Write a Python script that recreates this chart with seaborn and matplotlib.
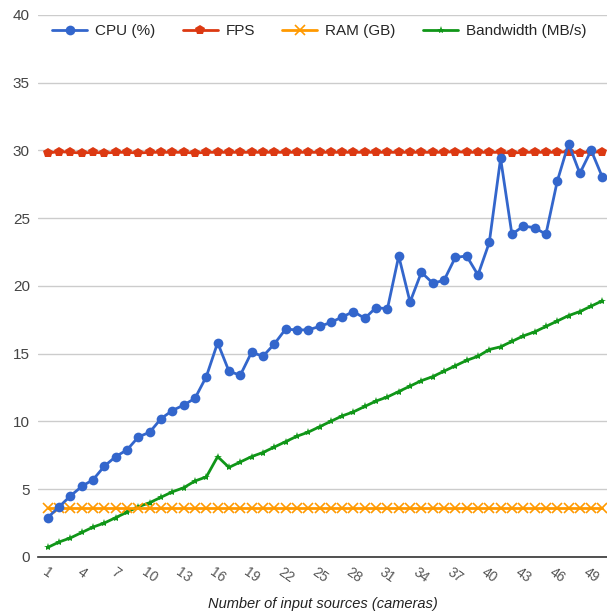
import numpy as np
import pandas as pd
import seaborn as sns
import matplotlib.pyplot as plt

cameras = list(range(1, 51))

cpu = [2.9, 3.7, 4.5, 5.2, 5.7, 6.7, 7.4, 7.9, 8.85, 9.2,
       10.2, 10.8, 11.2, 11.7, 13.3, 15.8, 13.7, 13.4, 15.1, 14.8,
       15.7, 16.8, 16.75, 16.75, 17.0, 17.3, 17.7, 18.1, 17.6, 18.4,
       18.3, 22.2, 18.8, 21.0, 20.2, 20.4, 22.1, 22.2, 20.8, 23.2,
       29.4, 23.8, 24.4, 24.3, 23.8, 27.7, 30.5, 28.3, 30.0, 28.0]

fps = [29.8, 29.9, 29.85, 29.8, 29.85, 29.8, 29.85, 29.85, 29.8, 29.85,
       29.85, 29.85, 29.85, 29.8, 29.85, 29.85, 29.85, 29.85, 29.85, 29.85,
       29.85, 29.85, 29.85, 29.85, 29.85, 29.85, 29.85, 29.85, 29.85, 29.85,
       29.85, 29.85, 29.85, 29.85, 29.85, 29.85, 29.9, 29.85, 29.85, 29.85,
       29.85, 29.8, 29.85, 29.85, 29.85, 29.85, 29.9, 29.8, 29.9, 29.85]

ram = [3.6, 3.6, 3.6, 3.6, 3.6, 3.6, 3.6, 3.6, 3.6, 3.6,
       3.6, 3.6, 3.6, 3.6, 3.6, 3.6, 3.6, 3.6, 3.6, 3.6,
       3.6, 3.6, 3.6, 3.6, 3.6, 3.6, 3.6, 3.6, 3.6, 3.6,
       3.6, 3.6, 3.6, 3.6, 3.6, 3.6, 3.6, 3.6, 3.6, 3.6,
       3.6, 3.6, 3.6, 3.6, 3.6, 3.6, 3.6, 3.6, 3.6, 3.6]

bandwidth = [0.7, 1.1, 1.4, 1.8, 2.2, 2.5, 2.9, 3.3, 3.7, 4.0,
             4.4, 4.8, 5.1, 5.6, 5.9, 7.4, 6.6, 7.0, 7.4, 7.7,
             8.1, 8.5, 8.9, 9.2, 9.6, 10.0, 10.4, 10.7, 11.1, 11.5,
             11.8, 12.2, 12.6, 13.0, 13.3, 13.7, 14.1, 14.5, 14.8, 15.3,
             15.5, 15.9, 16.3, 16.6, 17.0, 17.4, 17.8, 18.1, 18.5, 18.9]

series_names = ['CPU (%)', 'FPS', 'RAM (GB)', 'Bandwidth (MB/s)']

df = pd.DataFrame({
    'cameras': cameras * 4,
    'value': cpu + fps + ram + bandwidth,
    'series': [s for s in series_names for _ in cameras],
})

colors = {'CPU (%)': '#3366cc', 'FPS': '#dc3912',
          'RAM (GB)': '#ff9900', 'Bandwidth (MB/s)': '#109618'}
markers = {'CPU (%)': 'o', 'FPS': 'p', 'RAM (GB)': 'x', 'Bandwidth (MB/s)': '*'}
msizes = {'CPU (%)': 7, 'FPS': 7, 'RAM (GB)': 7, 'Bandwidth (MB/s)': 6}

sns.set_style('white')
plt.rcParams['font.family'] = ['Liberation Sans', 'DejaVu Sans']

fig = plt.figure(figsize=(6.07, 6.16), dpi=100)
ax = fig.add_axes([0.063, 0.096, 0.937, 0.88])

for name in ['Bandwidth (MB/s)', 'RAM (GB)', 'FPS', 'CPU (%)']:
    sub = df[df['series'] == name]
    sns.lineplot(data=sub, x='cameras', y='value', ax=ax, color=colors[name],
                 marker=markers[name], markersize=msizes[name],
                 markeredgewidth=1.2 if name == 'RAM (GB)' else 0,
                 markeredgecolor=colors[name], linewidth=2, label=name)

ax.set_ylim(0, 40)
ax.set_xlim(0.15, 50.4)
ax.set_yticks(range(0, 41, 5))
ax.set_xticks(range(1, 50, 3))
ax.set_xticklabels([str(t) for t in range(1, 50, 3)], rotation=-35,
                   ha='center', fontsize=10, color='#555555')
ax.tick_params(axis='y', labelsize=11, colors='#444444', length=0, pad=6)
ax.tick_params(axis='x', length=0, pad=6)
ax.yaxis.grid(True, color='#cccccc', linewidth=1)
ax.set_axisbelow(True)
for side in ['top', 'right', 'left']:
    ax.spines[side].set_visible(False)
ax.spines['bottom'].set_color('#333333')
ax.spines['bottom'].set_linewidth(1.2)

ax.set_xlabel('Number of input sources (cameras)', fontstyle='italic',
              fontsize=10.5, color='#222222', labelpad=8)
ax.set_ylabel('')

handles, labels = ax.get_legend_handles_labels()
order = [labels.index(n) for n in series_names]
ax.legend([handles[i] for i in order], series_names, loc='upper left',
          bbox_to_anchor=(0.0, 1.008), ncol=4, frameon=False, fontsize=11,
          handlelength=2.3, columnspacing=1.8, handletextpad=0.5)

plt.savefig('out.png', dpi=100)
